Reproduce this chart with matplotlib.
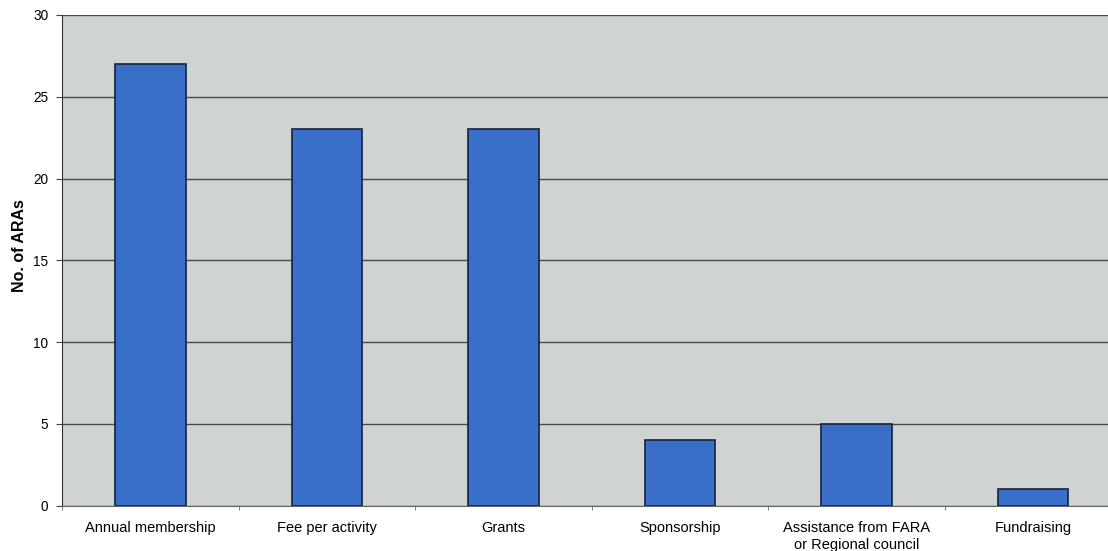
import matplotlib.pyplot as plt
import numpy as np

plt.rcParams['font.family'] = ['Liberation Sans', 'DejaVu Sans']

categories = ['Annual membership', 'Fee per activity', 'Grants', 'Sponsorship',
              'Assistance from FARA\nor Regional council', 'Fundraising']
counts = [27, 23, 23, 4, 5, 1]
yticks = [0, 5, 10, 15, 20, 25, 30]

fig = plt.figure(figsize=(11.08, 5.51), dpi=100)
# plot area runs a little past the right edge, as in the scan
ax = fig.add_axes([0.056, 0.082, 0.956, 0.891])
ax.set_facecolor('#cfd3d3')

x = np.arange(len(categories))
ax.bar(x, counts, width=0.4, color='#3a6fc9', edgecolor='#16223a', linewidth=1.2, zorder=3)

ax.set_xlim(-0.5, len(categories) - 0.5)
ax.set_ylim(0, 30)
ax.set_yticks(yticks)
ax.set_yticklabels([str(v) for v in yticks], fontsize=9.8)
ax.yaxis.grid(True, color='#4a4a4a', linewidth=1.0, zorder=1)
ax.set_axisbelow(True)

ax.set_xticks(x)
ax.set_xticklabels(categories, fontsize=10.5, linespacing=1.25)
ax.tick_params(axis='x', length=0, pad=11)
ax.set_xticks(np.arange(len(categories) + 1) - 0.5, minor=True)
ax.tick_params(axis='x', which='minor', length=3, color='#666666')
ax.tick_params(axis='y', length=4, color='#444444', pad=6)

ax.set_ylabel('No. of ARAs', fontsize=11.5, fontweight='bold')
ax.yaxis.set_label_coords(-0.033, 0.53)

for side in ['top', 'right']:
    ax.spines[side].set_visible(False)
ax.spines['left'].set_color('#333333')
ax.spines['bottom'].set_color('#666666')

fig.savefig('out.png', dpi=100)
